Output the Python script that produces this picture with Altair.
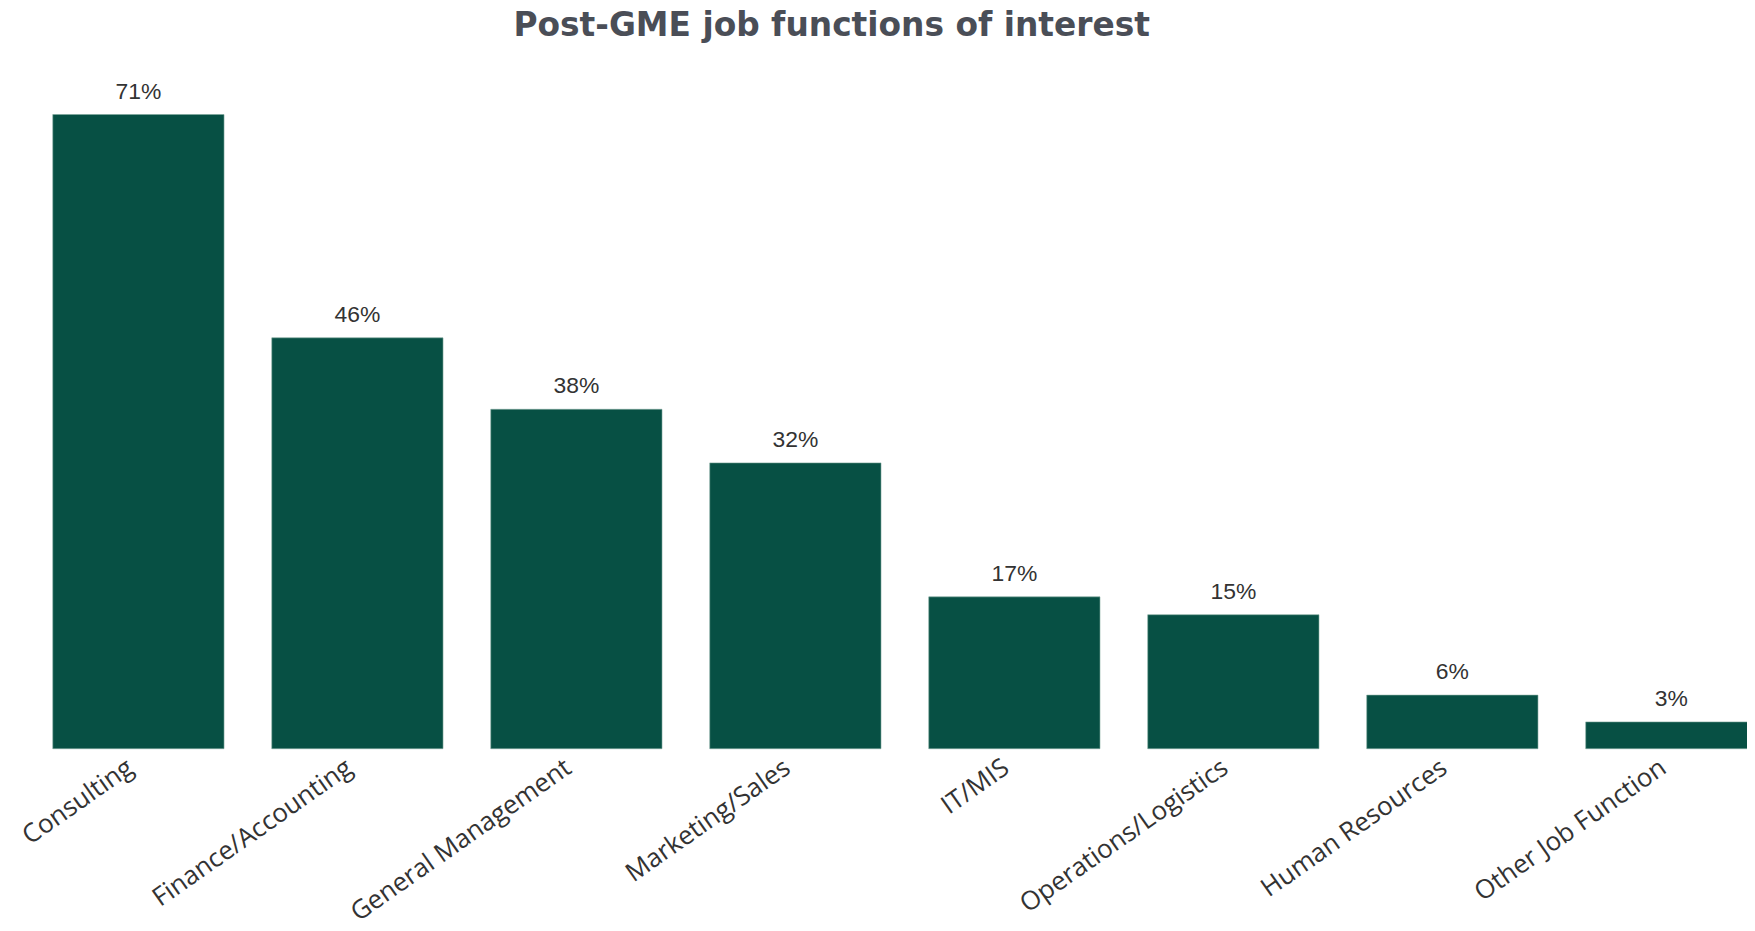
import altair as alt
import pandas as pd

categories = ["Consulting", "Finance/Accounting", "General Management", "Marketing/Sales",
              "IT/MIS", "Operations/Logistics", "Human Resources", "Other Job Function"]
values = [71, 46, 38, 32, 17, 15, 6, 3]
labels = [f"{v}%" for v in values]

df = pd.DataFrame({"function": categories, "pct": values, "label": labels})

x = alt.X(
    "function:N", sort=categories, title=None,
    scale=alt.Scale(range=[0, 1802], paddingInner=0.218, paddingOuter=0.2045),
    axis=alt.Axis(labelAngle=-35, labelAlign="right", labelBaseline="middle",
                  labelFont="Open Sans", labelFontSize=26, labelColor="#333333",
                  labelPadding=16, labelOffset=-8, domain=False, ticks=False,
                  labelOverlap=False, labelLimit=400),
)
y = alt.Y("pct:Q", scale=alt.Scale(domain=[0, 75]), axis=None)

base = alt.Chart(df).encode(x=x, y=y)
bars = base.mark_bar(color="#075044", stroke="#7fa89c", strokeWidth=1, strokeOpacity=0.6)
text = base.mark_text(dy=-16, baseline="alphabetic", font="Liberation Sans",
                      fontSize=23, color="#333333").encode(text="label:N")

chart = alt.layer(bars, text).properties(
    width=1747, height=673,
    title=alt.Title("Post-GME job functions of interest", font="DejaVu Sans", fontSize=33,
                    fontWeight="bold", color="#4a4e57", anchor="middle", dx=-46,
                    offset=10, baseline="alphabetic", frame="group"),
    autosize=alt.AutoSizeParams(type="none"),
    padding={"left": 0, "top": 69, "right": 0, "bottom": 181},
).configure_view(stroke=None)

chart.save("out.html", embed_options={"renderer": "svg", "actions": False})
